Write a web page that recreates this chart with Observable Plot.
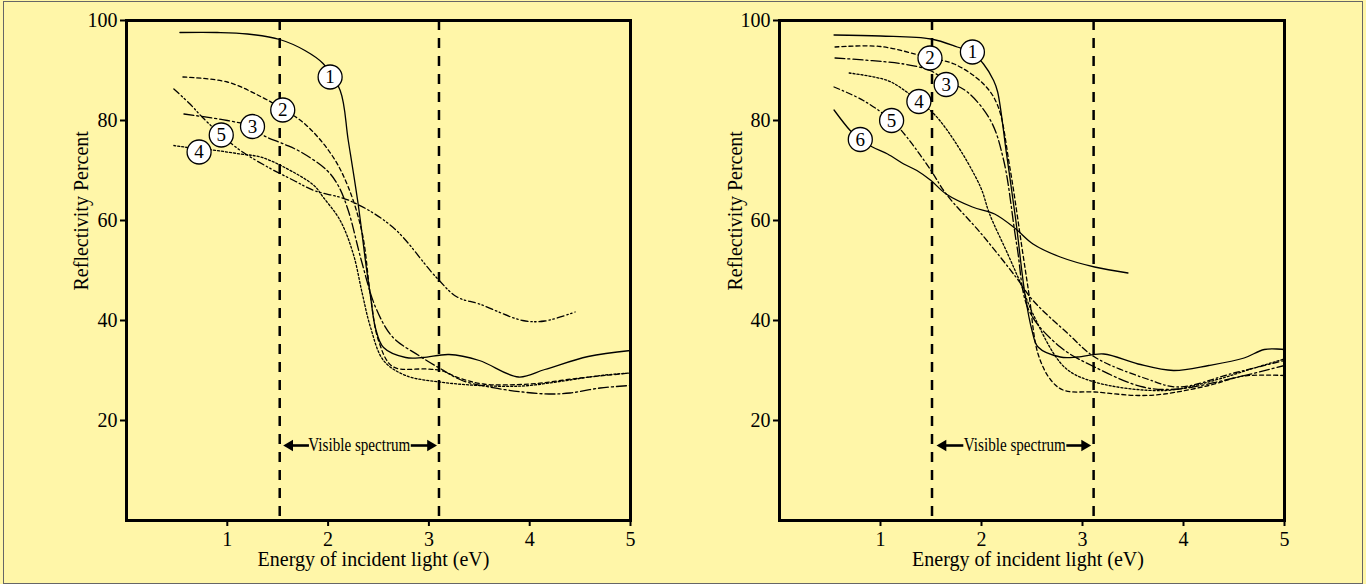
<!DOCTYPE html>
<html><head><meta charset="utf-8">
<script src="https://cdn.jsdelivr.net/npm/d3@7"></script>
<script src="https://cdn.jsdelivr.net/npm/@observablehq/plot@0.6"></script>
<style>
body{margin:0;background:#fff;}
#wrap{position:relative;width:1366px;height:584px;background:#FFF6A8;overflow:hidden;}
#border{position:absolute;left:3px;top:1px;width:1360px;height:583px;border:1.5px solid #666;box-sizing:border-box;}
.panel{position:absolute;top:0;}
</style></head><body>
<div id="wrap"><div id="border"></div><div id="p1" class="panel" style="left:0"></div><div id="p2" class="panel" style="left:683px"></div></div>
<script>
// ---------- data ----------
const xTicks = [1, 2, 3, 4, 5];
const yTicks = [20, 40, 60, 80, 100];
const visibleBounds = [1.52, 3.1];
const visibleBoundsRight = [1.51, 3.11];

// Left panel curves [energy eV, reflectivity %]
const left1 = [[0.53,97.6],[0.9,97.6],[1.2,97.3],[1.52,96.2],[1.77,94],[1.95,91.4],[2.12,86],[2.2,76],[2.3,63],[2.38,50.5],[2.42,45],[2.47,38.5],[2.55,34.6],[2.77,32.6],[2.94,32.6],[3.2,33.2],[3.5,32],[3.89,28.7],[4.15,30.2],[4.58,32.8],[5,34]];
const left2 = [[0.56,88.7],[1.0,87.7],[1.34,84.7],[1.55,82.3],[1.77,79.3],[2.03,73.3],[2.2,66.7],[2.34,57.3],[2.42,45],[2.5,36],[2.64,30.8],[2.98,30.3],[3.12,30],[3.3,28.5],[3.54,27.3],[4.0,27.3],[4.5,28.5],[5,29.5]];
const left3 = [[0.57,81.3],[1.0,80],[1.25,78.8],[1.36,77],[1.56,75.3],[1.73,73.7],[1.99,70],[2.1,67],[2.2,62],[2.33,52],[2.47,42.7],[2.64,36.7],[2.9,33],[3.12,30.3],[3.33,28],[3.6,26.7],[3.93,25.7],[4.19,25.3],[4.4,25.5],[4.7,26.5],[5,27]];
const left4 = [[0.47,75],[0.72,74.3],[0.85,74.1],[1.13,73.3],[1.33,72.7],[1.56,70.7],[1.86,67],[1.95,64.7],[2.12,60],[2.25,53.3],[2.34,45.3],[2.42,38.7],[2.55,32],[2.77,29],[3.11,27.7],[3.5,27],[3.93,26.9],[4.3,27.8],[4.7,29],[5,29.5]];
const left5 = [[0.47,86.3],[0.63,83.3],[0.75,80.7],[0.94,77.1],[1.13,74],[1.4,70.7],[1.66,68],[1.86,66],[2.21,64],[2.64,58.7],[3.07,48.7],[3.28,44.7],[3.5,43.3],[3.93,40],[4.15,39.9],[4.45,41.7]];

// Right panel curves
const right1 = [[0.54,97.1],[1.0,96.9],[1.5,96.3],[1.76,94.7],[1.91,93.5],[2.02,91.3],[2.12,88],[2.16,85.7],[2.25,73],[2.34,60],[2.43,45.3],[2.5,38],[2.56,34.7],[2.78,32.7],[2.95,32.7],[3.21,33.3],[3.55,31.3],[3.9,30],[4.25,31],[4.6,32.5],[4.8,34.2],[5,34.2]];
const right2 = [[0.55,94.7],[1.0,94.8],[1.49,92.5],[1.73,91.3],[2.02,87.3],[2.16,83],[2.28,70.7],[2.41,53.3],[2.47,45.3],[2.56,33.3],[2.69,28],[2.82,26],[3.12,25.7],[3.55,25],[3.81,25.3],[4.25,27],[4.6,28.9],[5,29]];
const right3 = [[0.55,92.5],[1.23,91.3],[1.49,90],[1.65,88],[1.86,85.7],[2.09,80],[2.22,72],[2.35,55],[2.47,42],[2.78,34.7],[3.12,30.7],[3.6,26.7],[3.95,26.3],[4.5,28.5],[5,31]];
const right4 = [[0.69,89.5],[1.07,88],[1.26,85.7],[1.38,83.8],[1.53,81.3],[1.73,76],[1.99,66.7],[2.08,61.3],[2.26,53.3],[2.39,47.3],[2.51,41.3],[2.82,30.7],[3.12,27.7],[3.82,26],[4.3,28],[4.7,30.5],[5,32.3]];
const right5 = [[0.54,86.7],[0.83,84],[1.11,80],[1.26,76.7],[1.5,70],[1.65,65.3],[2.0,57.3],[2.34,48.7],[2.51,44],[2.86,37.3],[3.12,32.7],[3.64,28.3],[3.95,26.7],[4.5,29.5],[5,32]];
const right6 = [[0.54,82.1],[0.7,78],[0.8,76.2],[0.92,74.7],[1.07,73.3],[1.23,71.3],[1.36,70],[1.5,68],[1.65,65.3],[1.91,62.7],[2.13,61.3],[2.34,58.3],[2.51,55.3],[2.78,52.7],[3.12,50.7],[3.45,49.5]];

// Curve labels (circled numbers)
const leftLabels = ["1", "2", "3", "4", "5"];
const leftLabelX = [2.02, 1.55, 1.25, 0.72, 0.94];
const leftLabelY = [88.7, 82.1, 78.8, 73.7, 77.1];
const rightLabels = ["1", "2", "3", "4", "5", "6"];
const rightLabelX = [1.91, 1.49, 1.65, 1.38, 1.11, 0.80];
const rightLabelY = [93.7, 92.5, 87.2, 83.8, 80.0, 76.2];

const xLabel = "Energy of incident light (eV)";
const yLabel = "Reflectivity Percent";
const spectrumLabel = "Visible spectrum";
const leftSpectrum = {center: 2.31, leftFrom: 1.81, leftTo: 1.56, rightFrom: 2.82, rightTo: 3.075, y: 15};
const rightSpectrum = {center: 2.33, leftFrom: 1.82, leftTo: 1.56, rightFrom: 2.84, rightTo: 3.08, y: 15};

const leftDashes = [null, "4,3", "10,3,2,3", "2,2", "7,3,1.5,2.5,1.5,3"];
const rightDashes = [null, "4,3", "10,3,2,3", "2,2", "6,3,1.5,3", null];

// ---------- drawing ----------
function panel(o) {
  const idx = o.labels.map((_, i) => i);
  const sp = o.spectrum;
  const marks = [
    Plot.ruleX(o.bounds, {strokeWidth: 2.5, strokeDasharray: "10,8", stroke: "black"}),
    ...o.curves.map((c, i) => Plot.line(c, {x: d => d[0], y: d => d[1], curve: "catmull-rom",
      stroke: "black", strokeWidth: 1.3, strokeDasharray: o.dashes[i] || undefined})),
    Plot.dot(idx, {x: i => o.lx[i], y: i => o.ly[i], r: 12, fill: "white", stroke: "black", strokeWidth: 1.3}),
    Plot.text(idx, {x: i => o.lx[i], y: i => o.ly[i], text: i => o.labels[i], fontSize: 19, fill: "black"}),
    Plot.text([spectrumLabel], {x: sp.center, y: sp.y, fontSize: 18, fill: "black"}),
    Plot.link([sp], {x1: d => d.leftFrom, x2: d => d.leftTo + 0.05, y1: d => d.y, y2: d => d.y, strokeWidth: 2.6, stroke: "black"}),
    Plot.link([sp], {x1: d => d.rightFrom, x2: d => d.rightTo - 0.05, y1: d => d.y, y2: d => d.y, strokeWidth: 2.6, stroke: "black"}),
    Plot.dot([sp], {x: d => d.leftTo, y: d => d.y, symbol: "triangle", r: 4.2, rotate: -90, dx: 6, fill: "black", stroke: null}),
    Plot.dot([sp], {x: d => d.rightTo, y: d => d.y, symbol: "triangle", r: 4.2, rotate: 90, dx: -6, fill: "black", stroke: null}),
    Plot.frame({strokeWidth: 3, stroke: "black"}),
    Plot.axisX({ticks: xTicks, tickSize: 6, tickPadding: 5, fontSize: 20, label: null, strokeWidth: 2, tickFormat: d => String(d)}),
    Plot.axisY({ticks: yTicks, tickSize: 6, tickPadding: 3, fontSize: 20, label: null, strokeWidth: 2, tickFormat: d => String(d)}),
    Plot.text([xLabel], {frameAnchor: "bottom", x: o.xLabelX, dy: 45, fontSize: 20, fill: "black"}),
    Plot.text([yLabel], {frameAnchor: "left", y: 46, dx: o.yLabelDx, rotate: -90, fontSize: 20, fill: "black"})
  ];
  return Plot.plot({
    width: 683, height: 584,
    marginLeft: o.marginLeft, marginRight: o.marginRight, marginTop: 20, marginBottom: 64,
    x: {domain: [0, 5]}, y: {domain: [0, 100]},
    style: {background: "transparent", fontFamily: "'Liberation Serif', serif", overflow: "visible", color: "black"},
    marks
  });
}

function condense(svg) {
  // the reference uses a condensed face for the "Visible spectrum" note
  d3.select(svg).selectAll("text").filter(function () { return this.textContent === spectrumLabel; })
    .attr("textLength", 102).attr("lengthAdjust", "spacingAndGlyphs");
}

const s1 = panel({
  curves: [left1, left2, left3, left4, left5], dashes: leftDashes,
  labels: leftLabels, lx: leftLabelX, ly: leftLabelY, bounds: visibleBounds,
  spectrum: leftSpectrum, marginLeft: 126, marginRight: 53, xLabelX: 2.45, yLabelDx: -45
});
document.getElementById("p1").append(s1);
condense(s1);
const s2 = panel({
  curves: [right1, right2, right3, right4, right5, right6], dashes: rightDashes,
  labels: rightLabels, lx: rightLabelX, ly: rightLabelY, bounds: visibleBoundsRight,
  spectrum: rightSpectrum, marginLeft: 96, marginRight: 82, xLabelX: 2.46, yLabelDx: -43.5
});
document.getElementById("p2").append(s2);
condense(s2);
</script>
</body></html>
